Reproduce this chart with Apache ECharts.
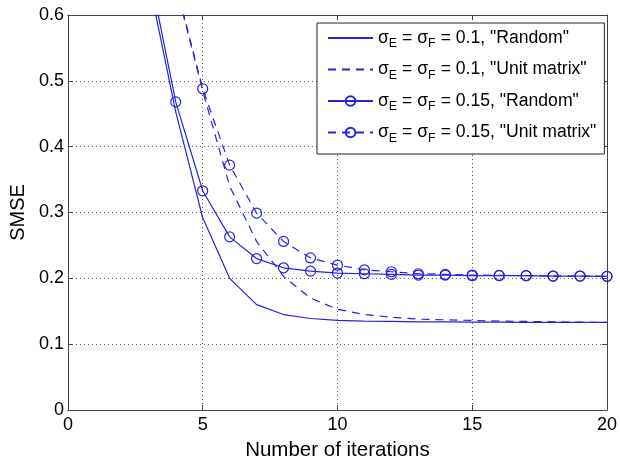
<!DOCTYPE html>
<html>
<head>
<meta charset="utf-8">
<script src="https://cdn.jsdelivr.net/npm/echarts@6/dist/echarts.min.js"></script>
<style>
  html, body { margin: 0; padding: 0; background: #fff; }
  #smseChart { width: 620px; height: 466px; }
</style>
</head>
<body>
<div id="smseChart"></div>
<script>
// iterations for the "Random" runs and the "Unit matrix" runs
var itersRandom = [3, 4, 5, 6, 7, 8, 9, 10, 11, 12, 13, 14, 15, 16, 17, 18, 19, 20];
var itersUnit = [4, 5, 6, 7, 8, 9, 10, 11, 12, 13, 14, 15, 16, 17, 18, 19, 20];

// SMSE values
var random01 = [0.652, 0.453, 0.292, 0.200, 0.160, 0.145, 0.139, 0.136, 0.135, 0.1345, 0.134, 0.134, 0.1335, 0.1335, 0.133, 0.133, 0.133, 0.133];
var unit01 = [0.645, 0.485, 0.340, 0.256, 0.203, 0.170, 0.153, 0.145, 0.141, 0.138, 0.137, 0.136, 0.135, 0.1345, 0.134, 0.1335, 0.133];
var random015 = [0.671, 0.468, 0.333, 0.263, 0.230, 0.216, 0.211, 0.208, 0.207, 0.206, 0.205, 0.205, 0.204, 0.204, 0.204, 0.2035, 0.2035, 0.203];
var unit015 = [0.648, 0.488, 0.372, 0.299, 0.256, 0.231, 0.220, 0.213, 0.210, 0.207, 0.206, 0.205, 0.2045, 0.204, 0.2035, 0.2035, 0.203];

var xTicks = [0, 5, 10, 15, 20];
var yTicks = [0, 0.1, 0.2, 0.3, 0.4, 0.5, 0.6];

var seriesNames = ['r01', 'u01', 'r015', 'u015'];
var sigmaVals = ['0.1', '0.1', '0.15', '0.15'];
var initNames = ['Random', 'Unit matrix', 'Random', 'Unit matrix'];
var hasMarker = [false, false, true, true];

var blue = '#2424e0';
var axisCol = '#444';
var fontFam = '"Liberation Sans", Arial, sans-serif';

function pairs(xs, ys) {
    var out = [];
    for (var i = 0; i < xs.length; i++) {
        out.push([xs[i], ys[i]]);
    }
    return out;
}

function makeLine(name, xs, ys, dashed, marker) {
    return {
        name: name,
        type: 'line',
        data: pairs(xs, ys),
        clip: true,
        symbol: marker ? 'circle' : 'none',
        symbolSize: 10,
        showSymbol: marker,
        lineStyle: { color: blue, width: 1.2, type: dashed ? [8, 6] : 'solid' },
        itemStyle: { color: 'rgba(255,255,255,0)', borderColor: blue, borderWidth: 1.2 },
        emphasis: { disabled: true },
        z: 3
    };
}

// legend entries: hide the circle on the plain-line items
var legendData = seriesNames.map(function (n, i) {
    if (hasMarker[i]) return { name: n };
    return { name: n, itemStyle: { borderWidth: 0, borderColor: 'rgba(0,0,0,0)', opacity: 0 } };
});

var myChart = echarts.init(document.getElementById('smseChart'));

var option = {
    animation: false,
    textStyle: { fontFamily: fontFam },
    grid: { left: 65, right: 11, top: 15, bottom: 46 },
    legend: {
        orient: 'vertical',
        left: 317,
        top: 23,
        padding: [6, 8, 9, 10],
        itemGap: 10,
        itemWidth: 45,
        itemHeight: 12,
        backgroundColor: '#fff',
        borderColor: '#222',
        borderWidth: 1,
        data: legendData,
        formatter: function (name) {
            var i = seriesNames.indexOf(name);
            return '{a|σ}{b|E}{a| = σ}{b|F}{a| = ' + sigmaVals[i] + ', "' + initNames[i] + '"}';
        },
        textStyle: {
            rich: {
                a: { fontSize: 17.6, color: '#000', fontFamily: fontFam },
                b: { fontSize: 12.5, color: '#000', fontFamily: fontFam, padding: [12, 0, 0, 0] }
            }
        }
    },
    xAxis: [
        {
            type: 'value', min: 0, max: 20, interval: 5,
            name: 'Number of iterations', nameLocation: 'middle', nameGap: 30,
            nameTextStyle: { fontSize: 20.5, color: '#000' },
            axisLine: { show: true, lineStyle: { color: axisCol, width: 1 } },
            axisTick: { show: true, inside: true, length: 5, lineStyle: { color: axisCol } },
            axisLabel: { fontSize: 18, color: '#000', margin: 6,
                formatter: function (v) { return xTicks.indexOf(v) >= 0 ? String(v) : ''; } },
            splitLine: { show: true, lineStyle: { color: '#555', type: [1, 3], width: 1 } }
        },
        {
            type: 'value', min: 0, max: 20, interval: 5, position: 'top',
            axisLine: { show: true, onZero: false, lineStyle: { color: axisCol, width: 1 } },
            axisTick: { show: true, inside: true, length: 5, lineStyle: { color: axisCol } },
            axisLabel: { show: false },
            splitLine: { show: false }
        }
    ],
    yAxis: [
        {
            type: 'value', min: 0, max: 0.6, interval: 0.1,
            name: 'SMSE', nameLocation: 'middle', nameGap: 38,
            nameTextStyle: { fontSize: 20, color: '#000' },
            axisLine: { show: true, lineStyle: { color: axisCol, width: 1 } },
            axisTick: { show: true, inside: true, length: 5, lineStyle: { color: axisCol } },
            axisLabel: { fontSize: 18, color: '#000', margin: 4,
                formatter: function (v) {
                    var r = Math.round(v * 10) / 10;
                    return yTicks.indexOf(r) >= 0 ? String(r) : '';
                } },
            splitLine: { show: true, lineStyle: { color: '#555', type: [1, 3], width: 1 } }
        },
        {
            type: 'value', min: 0, max: 0.6, interval: 0.1, position: 'right',
            axisLine: { show: true, onZero: false, lineStyle: { color: axisCol, width: 1 } },
            axisTick: { show: true, inside: true, length: 5, lineStyle: { color: axisCol } },
            axisLabel: { show: false },
            splitLine: { show: false }
        }
    ],
    series: [
        makeLine('r01', itersRandom, random01, false, false),
        makeLine('u01', itersUnit, unit01, true, false),
        makeLine('r015', itersRandom, random015, false, true),
        makeLine('u015', itersUnit, unit015, true, true)
    ]
};

myChart.setOption(option);
</script>
</body>
</html>
